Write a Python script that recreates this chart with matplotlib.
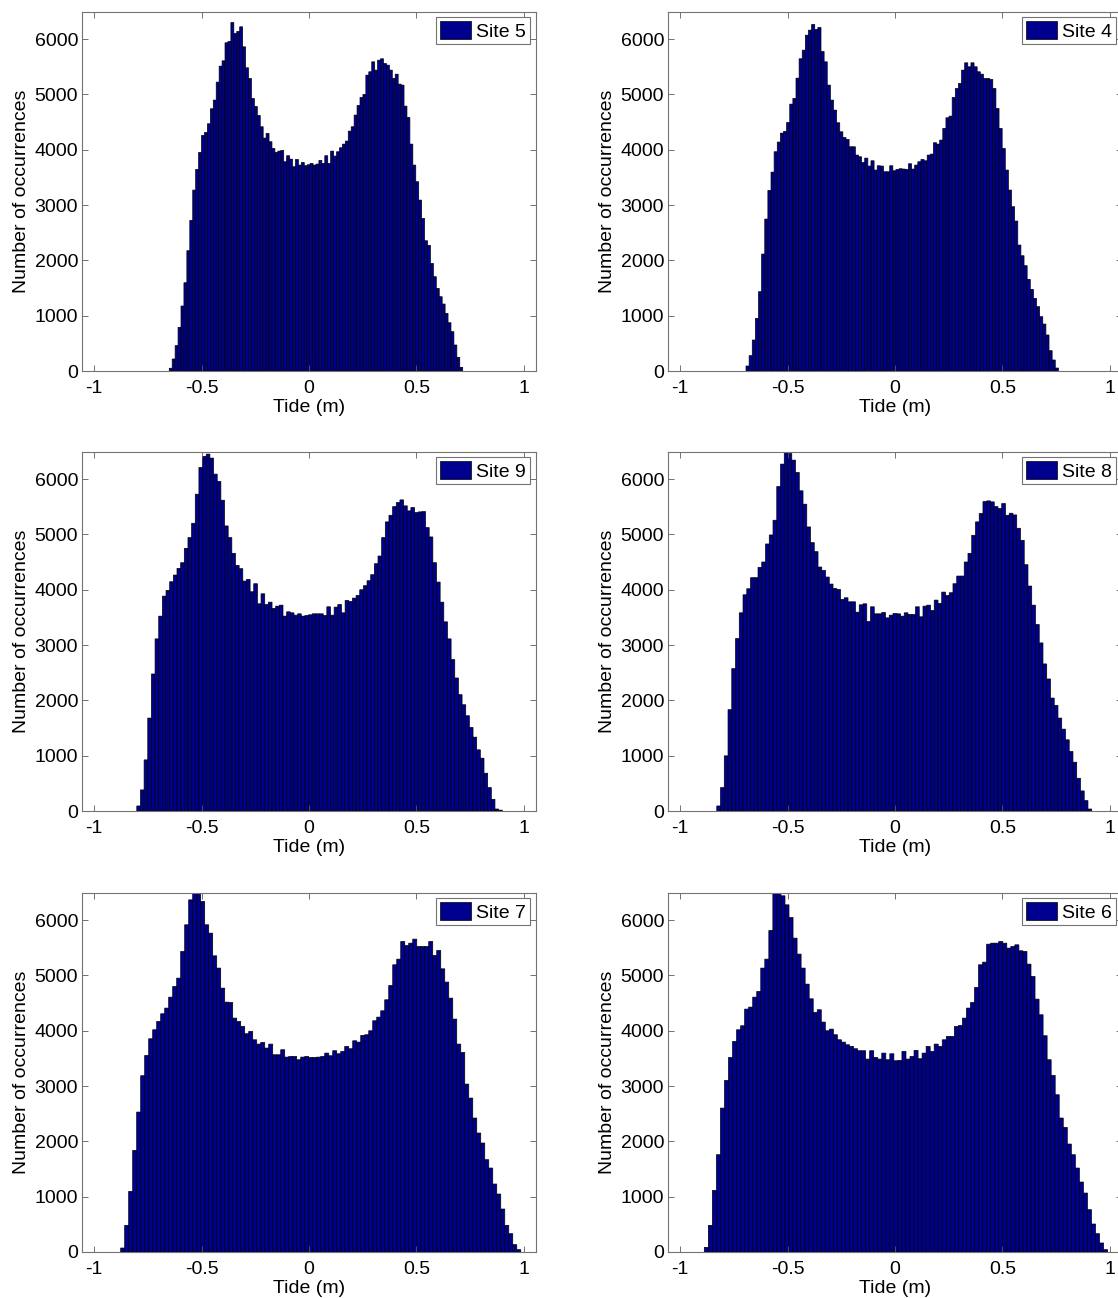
import numpy as np
import matplotlib
matplotlib.use('Agg')
import matplotlib.pyplot as plt

plt.rcParams['font.family'] = ['Liberation Sans', 'DejaVu Sans']
plt.rcParams['font.size'] = 14

# histogram data: 100 bins per site between tide_min and tide_max
sites = ['Site 5', 'Site 4', 'Site 9', 'Site 8', 'Site 7', 'Site 6']
tide_min = [-0.650, -0.693, -0.801, -0.829, -0.876, -0.887]
tide_max = [0.715, 0.760, 0.899, 0.915, 0.985, 0.989]

counts_site5 = [50, 217, 458, 789, 1175, 1596, 2175, 2723, 3271, 3645,
                3952, 4259, 4313, 4470, 4741, 4898, 5223, 5512, 5608, 5934,
                5958, 6301, 6102, 6139, 6223, 5861, 5482, 5289, 4928, 4783,
                4620, 4416, 4211, 4295, 4145, 4024, 3952, 3976, 3988, 3783,
                3892, 3831, 3693, 3825, 3723, 3771, 3711, 3729, 3753, 3723,
                3741, 3807, 3753, 3892, 3753, 3976, 3886, 3964, 4036, 4102,
                4157, 4337, 4416, 4627, 4801, 4946, 5000, 5349, 5410, 5590,
                5440, 5620, 5645, 5560, 5530, 5440, 5289, 5367, 5187, 5169,
                4789, 4584, 4102, 3723, 3422, 3090, 2759, 2355, 2271, 1946,
                1705, 1494, 1343, 1211, 1042, 873, 711, 470, 247, 66]

counts_site4 = [90, 277, 560, 952, 1434, 2114, 2747, 3265, 3596, 3964,
                4139, 4301, 4331, 4494, 4825, 4928, 5295, 5645, 5801, 6072,
                6163, 6265, 6175, 6211, 5777, 5590, 5169, 4898, 4717, 4488,
                4325, 4223, 4187, 4054, 4054, 3904, 3873, 3771, 3849, 3705,
                3801, 3633, 3711, 3705, 3602, 3602, 3711, 3620, 3645, 3657,
                3651, 3645, 3747, 3651, 3723, 3783, 3825, 3801, 3904, 3922,
                4127, 4102, 4175, 4386, 4578, 4608, 4946, 5108, 5199, 5440,
                5572, 5500, 5572, 5500, 5410, 5367, 5289, 5289, 5271, 5108,
                4747, 4386, 4024, 3633, 3271, 2970, 2711, 2277, 2084, 1904,
                1657, 1476, 1313, 1163, 982, 849, 651, 367, 199, 54]

counts_site9 = [91, 381, 924, 1680, 2477, 3112, 3523, 3885, 3988, 4145,
                4266, 4387, 4489, 4749, 4943, 5202, 5728, 6211, 6411, 6453,
                6381, 6091, 5958, 5619, 5154, 4943, 4659, 4441, 4381, 4157,
                4187, 3964, 4109, 3746, 3927, 3734, 3776, 3662, 3704, 3722,
                3523, 3601, 3583, 3541, 3565, 3523, 3535, 3547, 3565, 3565,
                3565, 3535, 3692, 3541, 3686, 3734, 3583, 3807, 3788, 3849,
                3897, 4000, 4073, 4163, 4272, 4471, 4610, 4943, 5227, 5347,
                5504, 5577, 5625, 5517, 5426, 5486, 5396, 5408, 5414, 5124,
                4955, 4489, 4139, 3776, 3420, 3112, 2737, 2405, 2103, 1921,
                1722, 1511, 1335, 1106, 955, 683, 423, 211, 36, 15]

counts_site8 = [91, 423, 997, 1831, 2574, 3118, 3583, 3909, 4018, 4218,
                4218, 4405, 4502, 4828, 4991, 5257, 5867, 6272, 6495, 6465,
                6344, 6121, 5789, 5547, 5136, 4852, 4689, 4411, 4350, 4230,
                4103, 4024, 4006, 3825, 3855, 3782, 3782, 3595, 3728, 3746,
                3426, 3692, 3565, 3565, 3589, 3492, 3541, 3571, 3565, 3523,
                3583, 3553, 3553, 3692, 3511, 3704, 3722, 3625, 3813, 3752,
                3958, 3897, 3946, 4109, 4248, 4248, 4502, 4659, 4985, 5227,
                5378, 5595, 5607, 5589, 5504, 5468, 5559, 5347, 5384, 5353,
                5112, 4894, 4453, 4067, 3722, 3372, 3039, 2659, 2387, 2042,
                1909, 1680, 1480, 1287, 1076, 882, 592, 363, 187, 36]

counts_site7 = [72, 482, 1096, 1837, 2530, 3187, 3554, 3855, 4018, 4169,
                4307, 4410, 4608, 4801, 4952, 5434, 5916, 6367, 6520, 6510,
                6337, 5916, 5765, 5355, 5133, 4771, 4518, 4512, 4229, 4169,
                4078, 3946, 3988, 3837, 3759, 3789, 3687, 3759, 3566, 3566,
                3657, 3524, 3536, 3536, 3476, 3524, 3536, 3518, 3518, 3524,
                3536, 3596, 3548, 3639, 3584, 3627, 3717, 3675, 3819, 3795,
                3916, 3928, 4000, 4181, 4247, 4361, 4560, 4819, 5193, 5295,
                5614, 5542, 5584, 5657, 5524, 5524, 5524, 5614, 5361, 5452,
                5120, 4880, 4590, 4211, 3759, 3608, 3036, 2783, 2422, 2151,
                1970, 1669, 1518, 1229, 1048, 777, 482, 331, 133, 42]

counts_site6 = [84, 482, 1114, 1759, 2602, 3102, 3518, 3807, 4018, 4090,
                4392, 4428, 4608, 4711, 5133, 5295, 5813, 6520, 6510, 6440,
                6277, 6048, 5675, 5386, 5133, 4843, 4578, 4331, 4380, 4157,
                4000, 4030, 3928, 3837, 3795, 3747, 3717, 3675, 3639, 3639,
                3488, 3639, 3518, 3488, 3596, 3476, 3584, 3458, 3464, 3627,
                3488, 3536, 3645, 3494, 3596, 3717, 3627, 3759, 3717, 3837,
                3898, 3898, 4078, 4096, 4229, 4410, 4512, 4783, 5193, 5241,
                5566, 5584, 5584, 5614, 5584, 5494, 5524, 5554, 5446, 5434,
                5205, 4982, 4572, 4289, 3910, 3476, 3193, 2843, 2422, 2253,
                1952, 1759, 1518, 1265, 1066, 765, 506, 331, 163, 42]

counts = [counts_site5, counts_site4, counts_site9,
          counts_site8, counts_site7, counts_site6]

W, H = 1118, 1298
fig = plt.figure(figsize=(W / 100, H / 100), dpi=100)

col_left = [82.2, 668.2]
row_bottom = [371, 811, 1252]
ax_w, ax_h = 453.6, 359.5

for i in range(6):
    r, c = divmod(i, 2)
    ax = fig.add_axes([col_left[c] / W, 1 - row_bottom[r] / H, ax_w / W, ax_h / H])
    edges = np.linspace(tide_min[i], tide_max[i], len(counts[i]) + 1)
    ax.bar(edges[:-1], counts[i], width=np.diff(edges), align='edge',
           color='#00008F', edgecolor='black', linewidth=0.5, snap=False,
           label=sites[i])
    ax.set_xlim(-1.055, 1.055)
    ax.set_ylim(0, 6500)
    ax.set_xticks([-1, -0.5, 0, 0.5, 1])
    ax.set_xticklabels(['-1', '-0.5', '0', '0.5', '1'])
    ax.set_yticks(range(0, 7000, 1000))
    ax.tick_params(direction='in', length=4, width=0.6, color='0.35',
                   top=True, right=True, labelsize=14, pad=3)
    ax.tick_params(axis='x', pad=6.5)
    for s in ax.spines.values():
        s.set_color('0.45')
        s.set_linewidth(0.8)
    ax.set_xlabel('Tide (m)', fontsize=14, labelpad=1.5)
    ax.set_ylabel('Number of occurrences', fontsize=14, labelpad=3)
    leg = ax.legend(loc='upper right', fontsize=14, fancybox=False,
                    borderaxespad=0.3, borderpad=0.2, handlelength=1.6,
                    handleheight=1.0, handletextpad=0.25, framealpha=1)
    leg.get_frame().set_edgecolor('0.45')
    leg.get_frame().set_linewidth(0.8)

fig.savefig('out.png', dpi=100)
